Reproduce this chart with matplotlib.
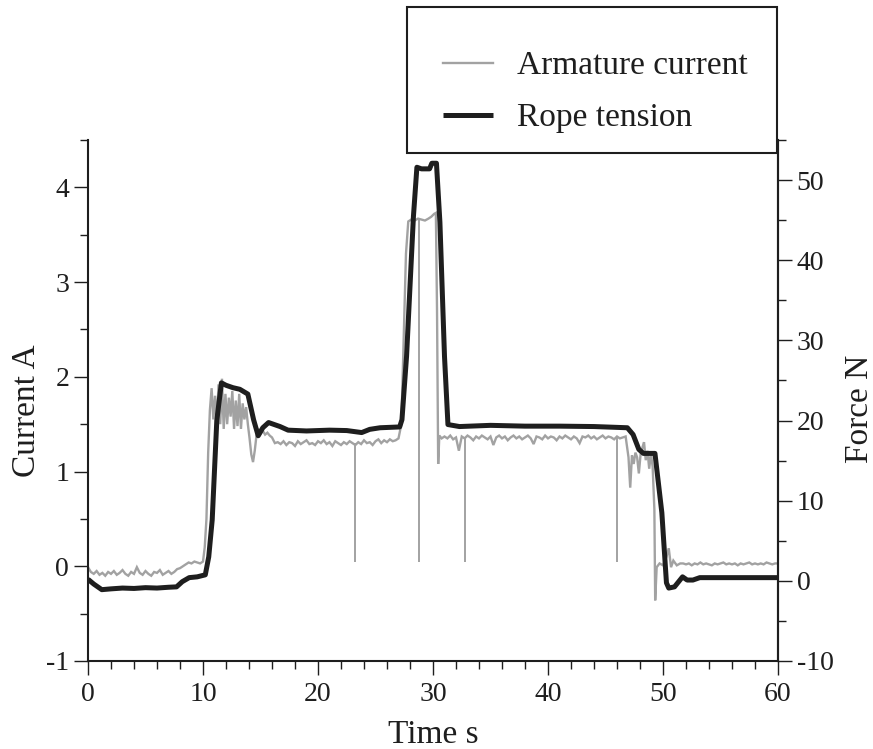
import numpy as np
import matplotlib
matplotlib.use("Agg")
import matplotlib.pyplot as plt
from matplotlib.ticker import MultipleLocator
from matplotlib.patches import Rectangle

plt.rcParams["font.family"] = ["Liberation Serif", "DejaVu Serif"]
plt.rcParams["axes.unicode_minus"] = False

# ---------------- data ----------------
SAMPLE_STEP = 0.25  # s, logger step for the steady stretches

# armature current [A], steady stretches sampled every SAMPLE_STEP from their start time
idle_start, idle_amp = 0.0, [
    -0.01, -0.06, -0.08, -0.05, -0.09, -0.07, -0.10, -0.06, -0.08, -0.05,
    -0.09, -0.07, -0.04, -0.08, -0.10, -0.06, -0.08, -0.01, -0.07, -0.09,
    -0.05, -0.08, -0.10, -0.06, -0.07, -0.04, -0.09, -0.07, -0.05, -0.08,
    -0.06, -0.03, -0.02]
creep_start, creep_amp = 8.25, [0.00, 0.02, 0.04, 0.03, 0.05, 0.04, 0.03, 0.05]
hold1_start, hold1_amp = 16.5, [
    1.31, 1.29, 1.32, 1.28, 1.31, 1.30, 1.27, 1.32, 1.29, 1.31,
    1.33, 1.29, 1.30, 1.28, 1.32, 1.30, 1.33, 1.29, 1.31, 1.27,
    1.32, 1.30, 1.28, 1.31, 1.29, 1.32, 1.30, 1.28, 1.31, 1.29,
    1.33, 1.30, 1.31, 1.28, 1.32, 1.34, 1.30, 1.33, 1.31, 1.34,
    1.32, 1.33, 1.35]
hold2_start, hold2_amp = 31.0, [
    1.37, 1.35, 1.38, 1.34, 1.36, 1.22, 1.37, 1.35, 1.38, 1.36,
    1.33, 1.37, 1.35, 1.38, 1.36, 1.34, 1.37, 1.28, 1.36, 1.38,
    1.35, 1.37, 1.33, 1.36, 1.38, 1.35, 1.37, 1.34, 1.36, 1.38,
    1.35, 1.29, 1.37, 1.36, 1.34, 1.38, 1.35, 1.37, 1.36, 1.33,
    1.37, 1.35, 1.38, 1.36, 1.34, 1.37, 1.35, 1.30, 1.37, 1.36,
    1.38, 1.35, 1.37, 1.34, 1.36, 1.38, 1.35, 1.37, 1.36, 1.34,
    1.37, 1.35, 1.36, 1.37]
rest_start, rest_amp = 51.75, [
    0.03, 0.02, 0.03, 0.01, 0.03, 0.02, 0.04, 0.02, 0.03, 0.02,
    0.01, 0.03, 0.02, 0.03, 0.04, 0.02, 0.03, 0.02, 0.03, 0.01,
    0.03, 0.02, 0.03, 0.04, 0.02, 0.03, 0.02, 0.03, 0.02, 0.04,
    0.03, 0.02, 0.03, 0.03]

# armature current during transients (explicit time stamps)
lift_t = [10.15, 10.3, 10.45, 10.6, 10.75, 10.9, 11.05, 11.2, 11.35, 11.5,
          11.65, 11.8, 11.95, 12.1, 12.25, 12.4, 12.55, 12.7, 12.85, 13.0,
          13.15, 13.3, 13.45, 13.6, 13.75, 13.9, 14.05, 14.2, 14.35, 14.5,
          14.65, 14.8, 15.0, 15.2, 15.4, 15.6, 15.8, 16.0, 16.25]
lift_amp = [0.20, 0.50, 1.20, 1.65, 1.88, 1.55, 1.80, 1.48, 1.92, 1.50,
            1.98, 1.45, 1.82, 1.50, 1.78, 1.58, 1.85, 1.45, 1.75, 1.48,
            1.82, 1.45, 1.72, 1.55, 1.68, 1.50, 1.35, 1.18, 1.10, 1.22,
            1.38, 1.45, 1.40, 1.43, 1.39, 1.41, 1.38, 1.36, 1.30]
peak_t = [27.25, 27.45, 27.65, 27.85, 28.1, 28.4, 28.7, 29.0, 29.3, 29.6,
          29.85, 30.1, 30.25, 30.35, 30.45, 30.55, 30.75]
peak_amp = [1.50, 2.40, 3.30, 3.64, 3.66, 3.65, 3.67, 3.66, 3.65, 3.67,
            3.69, 3.72, 3.73, 2.70, 1.08, 1.38, 1.35]
lower_t = [47.0, 47.15, 47.3, 47.45, 47.6, 47.75, 47.9, 48.05, 48.2, 48.35,
           48.5, 48.65, 48.8, 48.95, 49.1, 49.25, 49.32, 49.45, 49.7, 50.0,
           50.3, 50.5, 50.7, 50.9, 51.2, 51.5]
lower_amp = [1.15, 0.83, 1.17, 1.08, 1.20, 1.15, 0.98, 1.18, 1.25, 1.31,
             1.12, 1.22, 1.03, 1.19, 1.05, 0.60, -0.36, -0.01, 0.03, 0.01,
             0.10, 0.19, -0.01, 0.06, 0.01, 0.03]

# short current dropouts
dropout_t = [23.2, 28.8, 32.8, 46.0]
dropout_top = [1.30, 3.66, 1.36, 1.36]
dropout_low = [0.04, 0.04, 0.05, 0.04]

# rope tension [N]
tension_t = [0.0, 0.5, 1.2, 2.0, 3.0, 4.0, 5.0, 6.0, 7.0, 7.7,
             8.2, 8.8, 9.5, 10.2, 10.5, 10.8, 11.2, 11.6, 12.0, 12.6,
             13.2, 13.9, 14.4, 14.8, 15.2, 15.7, 16.7, 17.4, 19.0, 21.0,
             22.5, 23.8, 24.5, 25.4, 27.1, 27.3, 27.7, 28.3, 28.6, 29.0,
             29.7, 29.9, 30.3, 30.6, 31.0, 31.3, 32.3, 35.0, 38.0, 41.0,
             44.0, 46.9, 47.4, 47.9, 48.3, 49.3, 49.9, 50.3, 50.5, 51.0,
             51.7, 52.1, 52.6, 53.2, 60.0]
tension_n = [0.2, -0.4, -1.1, -1.0, -0.9, -0.95, -0.85, -0.9, -0.8, -0.75,
             -0.1, 0.4, 0.5, 0.75, 3.0, 7.6, 20.0, 24.7, 24.4, 24.1,
             23.9, 23.3, 20.1, 18.1, 19.1, 19.75, 19.25, 18.8, 18.7, 18.8,
             18.75, 18.5, 18.9, 19.1, 19.2, 20.1, 28.0, 45.5, 51.6, 51.4,
             51.4, 52.1, 52.1, 44.75, 28.0, 19.5, 19.25, 19.4, 19.3, 19.3,
             19.25, 19.1, 18.25, 16.4, 15.9, 15.9, 8.5, -0.25, -0.9, -0.75,
             0.5, 0.1, 0.1, 0.4, 0.4]

# ---------------- assemble current trace ----------------
def steady(start, values):
    t = start + SAMPLE_STEP * np.arange(len(values))
    return t, np.asarray(values, dtype=float)

parts = [steady(idle_start, idle_amp), steady(creep_start, creep_amp),
         (np.array(lift_t), np.array(lift_amp)),
         steady(hold1_start, hold1_amp),
         (np.array(peak_t), np.array(peak_amp)),
         steady(hold2_start, hold2_amp),
         (np.array(lower_t), np.array(lower_amp)),
         steady(rest_start, rest_amp)]
cur_t = np.concatenate([p[0] for p in parts])
cur_a = np.concatenate([p[1] for p in parts])
order = np.argsort(cur_t, kind="stable")
cur_t, cur_a = cur_t[order], cur_a[order]

# ---------------- figure ----------------
W, H = 873, 749
fig = plt.figure(figsize=(W / 100, H / 100), dpi=100)
ax = fig.add_axes([88 / W, 1 - 661 / H, 690 / W, 521 / H])
ax2 = ax.twinx()

ink = "#1e1e1e"
grey = "#a2a2a2"

ax.plot(cur_t, cur_a, color=grey, lw=1.7, label="Armature current",
        solid_joinstyle="miter")
ax.vlines(dropout_t, dropout_low, dropout_top, color=grey, lw=1.4)
ax2.plot(tension_t, tension_n, color=ink, lw=3.6, label="Rope tension",
         solid_joinstyle="round", solid_capstyle="butt")

ax.set_xlim(0, 60)
ax.set_ylim(-1, 4.5)
ax2.set_ylim(-10, 55)

ax.xaxis.set_major_locator(MultipleLocator(10))
ax.xaxis.set_minor_locator(MultipleLocator(2))
ax.yaxis.set_major_locator(MultipleLocator(1))
ax.yaxis.set_minor_locator(MultipleLocator(0.5))
ax2.yaxis.set_major_locator(MultipleLocator(10))
ax2.yaxis.set_minor_locator(MultipleLocator(5))

for a in (ax, ax2):
    a.spines["top"].set_visible(False)
    for s in a.spines.values():
        s.set_linewidth(1.5)
        s.set_color(ink)
    a.tick_params(which="major", direction="out", length=10, width=1.0,
                  colors=ink, labelsize=20, labelcolor=ink)
    a.tick_params(which="minor", direction="out", length=5.5, width=1.0,
                  colors=ink)
ax.tick_params(axis="y", pad=3.5)
ax.tick_params(axis="x", pad=5)
ax2.tick_params(axis="y", pad=3.5)
ax2.spines["left"].set_visible(False)
ax2.spines["bottom"].set_visible(False)

ax.set_xlabel("Time s", fontsize=24, color=ink)
ax.set_ylabel("Current A", fontsize=24, color=ink)
ax2.set_ylabel("Force N", fontsize=24, color=ink)
ax.xaxis.set_label_coords(0.5, -0.113)
ax.yaxis.set_label_coords(-0.067, 0.48)
ax2.yaxis.set_label_coords(1.096, 0.484)

# legend entries placed inside a separately drawn frame above the plot
h1, l1 = ax.get_legend_handles_labels()
h2, l2 = ax2.get_legend_handles_labels()
leg = fig.legend(h1 + h2, l1 + l2, loc="upper left",
                 bbox_to_anchor=(443 / W, 1 - 51 / H),
                 fontsize=24, frameon=False, borderpad=0, labelspacing=0.64,
                 handlelength=1.5, handletextpad=0.72, borderaxespad=0)
for t in leg.get_texts():
    t.set_color(ink)
fig.patches.append(Rectangle((407 / W, 1 - 153 / H), 370 / W, 146 / H,
                             transform=fig.transFigure, facecolor="white",
                             edgecolor=ink, linewidth=1.5, zorder=0.5))

fig.savefig("out.png", dpi=100)
